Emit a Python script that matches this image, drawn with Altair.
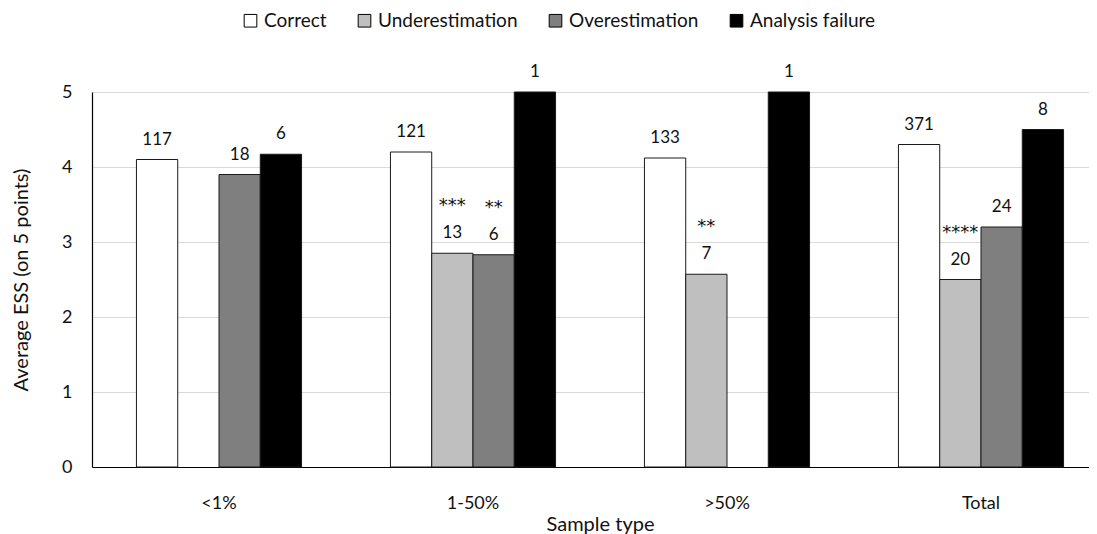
import altair as alt
import pandas as pd

categories = ["<1%", "1-50%", ">50%", "Total"]
series = ["Correct", "Underestimation", "Overestimation", "Analysis failure"]
colors = ["#ffffff", "#bfbfbf", "#7f7f7f", "#000000"]

correct = [4.10, 4.20, 4.12, 4.30]
under = [None, 2.85, 2.57, 2.50]
over = [3.90, 2.83, None, 3.20]
failure = [4.17, 5.00, 5.00, 4.50]

n_correct = ["117", "121", "133", "371"]
n_under = ["", "13", "7", "20"]
n_over = ["18", "6", "", "24"]
n_failure = ["6", "1", "1", "8"]

stars_under = ["", "***", "**", "****"]
stars_over = ["", "**", "", ""]
stars_correct = ["", "", "", ""]
stars_failure = ["", "", "", ""]

rows = []
for s, vals, ns, st in [
    ("Correct", correct, n_correct, stars_correct),
    ("Underestimation", under, n_under, stars_under),
    ("Overestimation", over, n_over, stars_over),
    ("Analysis failure", failure, n_failure, stars_failure),
]:
    for c, v, n, k in zip(categories, vals, ns, st):
        if v is not None:
            rows.append({"cat": c, "series": s, "value": v, "n": n, "stars": k})
df = pd.DataFrame(rows)

FONT = "Lato"
TXT = "#111111"

x_enc = alt.X("cat:N", sort=categories, title="Sample type",
              scale=alt.Scale(range=[0, 1016], paddingInner=0.35, paddingOuter=0.175),
              axis=alt.Axis(labelAngle=0, ticks=False, domainColor="#000", domainWidth=1.2,
                            labelPadding=27, titlePadding=2, labelFontSize=18,
                            titleFontSize=20, labelColor=TXT, titleColor=TXT,
                            labelFont=FONT, titleFont=FONT, titleFontWeight="normal"))
xoff = alt.XOffset("series:N", sort=series,
                   scale=alt.Scale(domain=series, paddingInner=0, paddingOuter=0))
y_enc = alt.Y("value:Q", title="Average ESS (on 5 points)",
              scale=alt.Scale(domain=[0, 5], nice=False),
              axis=alt.Axis(values=[0, 1, 2, 3, 4, 5], format="d", ticks=False,
                            domainColor="#000", domainWidth=1.2, gridColor="#d9d9d9",
                            gridWidth=1.2, labelPadding=20, titlePadding=30,
                            labelFontSize=18, titleFontSize=20, labelColor=TXT,
                            titleColor=TXT, labelFont=FONT, titleFont=FONT,
                            titleFontWeight="normal"))

base = alt.Chart(df)

bars = base.mark_bar(stroke="#1a1a1a", strokeWidth=1).encode(
    x=x_enc, xOffset=xoff, y=y_enc,
    color=alt.Color("series:N", sort=series,
                    scale=alt.Scale(domain=series, range=colors),
                    legend=alt.Legend(title=None, orient="none", direction="horizontal",
                                      legendX=149, legendY=-81, symbolType="square",
                                      symbolSize=160, symbolStrokeColor="#000",
                                      symbolStrokeWidth=1, labelFontSize=19,
                                      labelFont=FONT, labelColor=TXT,
                                      columnPadding=28, labelOffset=4)),
)

counts = base.mark_text(baseline="alphabetic", dy=-15, fontSize=17, font=FONT, color=TXT).encode(
    x=alt.X("cat:N", sort=categories), xOffset=xoff, y="value:Q", text="n:N")

stars = base.mark_text(baseline="alphabetic", dy=-42, fontSize=18, font="DejaVu Sans",
                       color=TXT).encode(
    x=alt.X("cat:N", sort=categories), xOffset=xoff, y="value:Q", text="stars:N")

chart = alt.layer(bars, counts, stars).properties(
    width=997, height=375,
    autosize=alt.AutoSizeParams(type="none"),
    padding={"left": 84, "top": 84, "right": 0, "bottom": 70},
).configure_view(stroke=None).configure(background="white")

chart.save("out.html", embed_options={"renderer": "svg", "actions": False})
